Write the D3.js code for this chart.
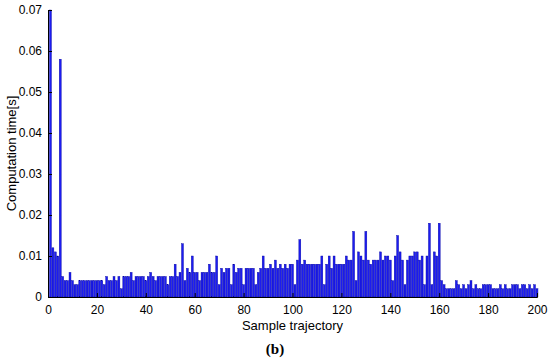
<!DOCTYPE html>
<html>
<head>
<meta charset="utf-8">
<script src="https://cdn.jsdelivr.net/npm/d3@7"></script>
<style>
  body { margin: 0; background: #fff; }
  svg text { font-family: "Liberation Sans", Arial, sans-serif; }
</style>
</head>
<body>
<svg id="chart" width="550" height="360"></svg>
<script>
// computation time per sample trajectory (1..200)
const times = [
  0.070, 0.012, 0.011, 0.010, 0.058, 0.005, 0.004, 0.004, 0.006, 0.004,
  0.003, 0.003, 0.004, 0.004, 0.004, 0.004, 0.004, 0.004, 0.004, 0.004,
  0.004, 0.004, 0.003, 0.005, 0.004, 0.004, 0.005, 0.004, 0.005, 0.002,
  0.005, 0.005, 0.005, 0.006, 0.004, 0.005, 0.005, 0.005, 0.005, 0.004,
  0.005, 0.006, 0.005, 0.004, 0.005, 0.005, 0.005, 0.005, 0.003, 0.005,
  0.005, 0.008, 0.005, 0.006, 0.013, 0.004, 0.007, 0.006, 0.010, 0.006,
  0.006, 0.004, 0.006, 0.006, 0.006, 0.008, 0.006, 0.006, 0.010, 0.003,
  0.007, 0.006, 0.007, 0.007, 0.003, 0.008, 0.006, 0.007, 0.007, 0.003,
  0.007, 0.007, 0.007, 0.007, 0.003, 0.006, 0.007, 0.010, 0.007, 0.007,
  0.008, 0.007, 0.009, 0.007, 0.008, 0.007, 0.008, 0.007, 0.008, 0.008,
  0.003, 0.009, 0.014, 0.008, 0.009, 0.008, 0.008, 0.008, 0.008, 0.008,
  0.008, 0.010, 0.003, 0.008, 0.010, 0.007, 0.010, 0.008, 0.008, 0.008,
  0.008, 0.010, 0.009, 0.009, 0.016, 0.004, 0.011, 0.010, 0.009, 0.016,
  0.009, 0.008, 0.009, 0.009, 0.009, 0.011, 0.009, 0.010, 0.010, 0.009,
  0.004, 0.010, 0.015, 0.011, 0.009, 0.003, 0.009, 0.010, 0.010, 0.011,
  0.011, 0.009, 0.010, 0.003, 0.010, 0.018, 0.003, 0.011, 0.010, 0.018,
  0.004, 0.003, 0.002, 0.002, 0.002, 0.002, 0.004, 0.003, 0.002, 0.003,
  0.002, 0.003, 0.004, 0.002, 0.003, 0.002, 0.002, 0.003, 0.003, 0.003,
  0.003, 0.002, 0.002, 0.002, 0.003, 0.002, 0.003, 0.002, 0.002, 0.003,
  0.003, 0.003, 0.002, 0.003, 0.003, 0.002, 0.003, 0.002, 0.003, 0.002
];
const xTicks = [0, 20, 40, 60, 80, 100, 120, 140, 160, 180, 200];
const yTicks = [0, 0.01, 0.02, 0.03, 0.04, 0.05, 0.06, 0.07];

const svg = d3.select(`#chart`);
const margin = { left: 48, right: 13, top: 10, bottom: 63 };
const width = 550 - margin.left - margin.right;
const height = 360 - margin.top - margin.bottom;

const x = d3.scaleLinear().domain([0, 200]).range([0, width]);
const y = d3.scaleLinear().domain([0, 0.07]).range([height, 0]);

const g = svg.append(`g`).attr(`transform`, `translate(${margin.left},${margin.top})`);

const barW = (x(1) - x(0)) * 0.8;

g.selectAll(`rect.bar`)
  .data(times)
  .enter().append(`rect`)
    .attr(`class`, `bar`)
    .attr(`x`, (d, i) => x(i + 1) - barW / 2)
    .attr(`width`, barW)
    .attr(`y`, d => y(d))
    .attr(`height`, d => height - y(d))
    .attr(`fill`, `#1c1cf0`)
    .attr(`stroke`, `#0000a0`)
    .attr(`stroke-width`, 0.4);

const xAxis = g.append(`g`)
  .attr(`transform`, `translate(0,${height})`)
  .call(d3.axisBottom(x).tickValues(xTicks).tickSize(-4).tickPadding(8));

const yAxis = g.append(`g`)
  .call(d3.axisLeft(y).tickValues(yTicks).tickSize(-4).tickPadding(6)
    .tickFormat(d => d === 0 ? `0` : d3.format(`.2f`)(d)));

[xAxis, yAxis].forEach(a => {
  a.selectAll(`text`).attr(`font-size`, 12).attr(`fill`, `#000`)
    .style(`font-family`, `"Liberation Sans", Arial, sans-serif`);
  a.selectAll(`line`).attr(`stroke`, `#000`);
  a.select(`.domain`).attr(`stroke`, `#000`);
});

svg.append(`text`)
  .attr(`x`, margin.left + width / 2)
  .attr(`y`, 330)
  .attr(`text-anchor`, `middle`)
  .attr(`font-size`, 13)
  .text(`Sample trajectory`);

svg.append(`text`)
  .attr(`transform`, `translate(16,${margin.top + height / 2}) rotate(-90)`)
  .attr(`text-anchor`, `middle`)
  .attr(`font-size`, 13)
  .text(`Computation time[s]`);

svg.append(`text`)
  .attr(`x`, 275)
  .attr(`y`, 354)
  .attr(`text-anchor`, `middle`)
  .attr(`font-size`, 15)
  .attr(`font-weight`, `bold`)
  .style(`font-family`, `"Liberation Serif", "Times New Roman", serif`)
  .text(`(b)`);
</script>
</body>
</html>
